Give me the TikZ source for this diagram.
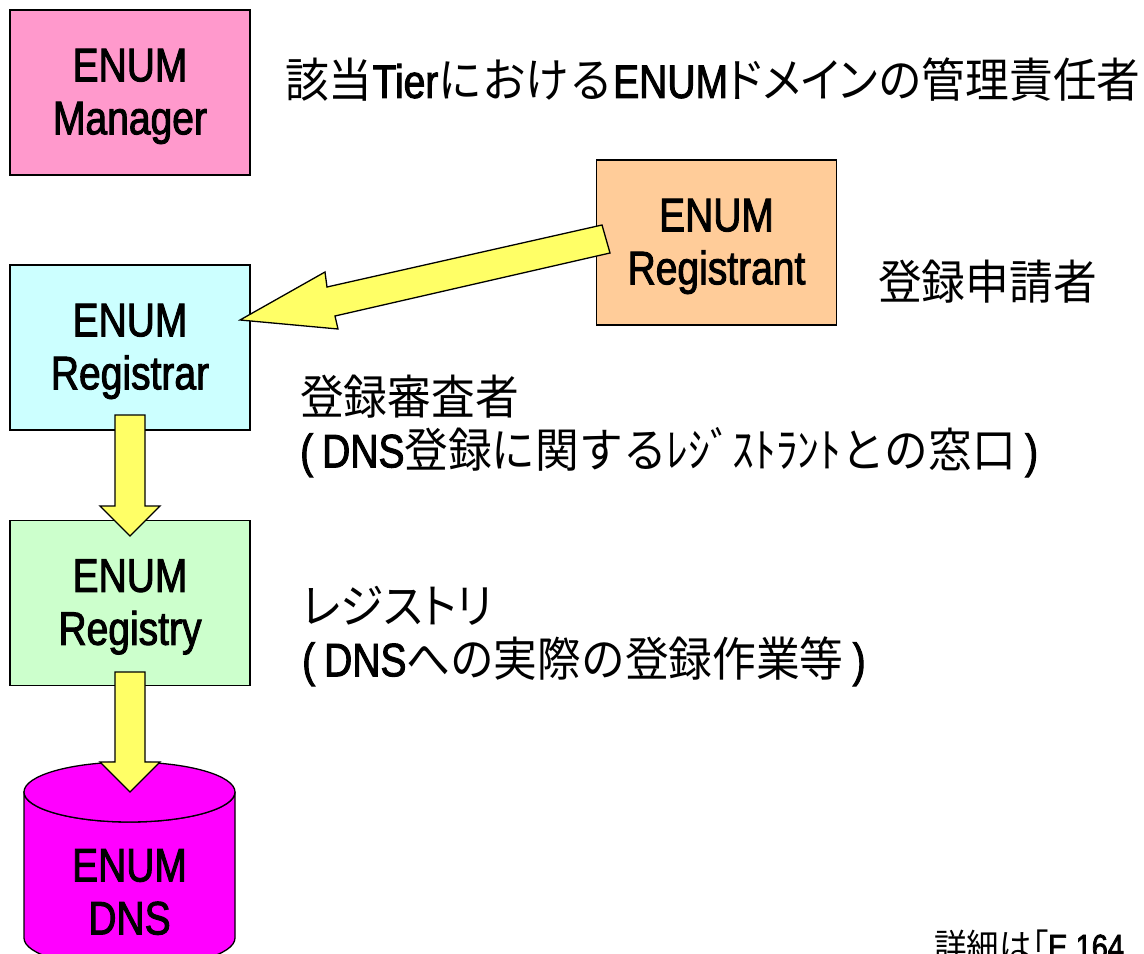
\documentclass[tikz,border=0pt]{standalone}
\usepackage{fontspec}
\setmainfont{Liberation Sans}[FakeStretch=0.83, FakeBold=2]
\newfontfamily\jp{Noto Sans CJK JP}[FakeStretch=0.93]
\newfontfamily\jpp{Noto Sans CJK JP}[FakeStretch=0.93, RawFeature=+palt]
\newcommand\J[1]{{\jp #1}}
\newcommand\JP[1]{{\jpp #1}}
\definecolor{mgrpink}{HTML}{FF99CC}
\definecolor{regorange}{HTML}{FFCC99}
\definecolor{rarcyan}{HTML}{CCFFFF}
\definecolor{rygreen}{HTML}{CCFFCC}
\definecolor{dnsmag}{HTML}{FF00FF}
\definecolor{arrowyellow}{HTML}{FFFF66}
\begin{document}
\begin{tikzpicture}[x=1bp,y=-1bp,
  box/.style={draw=black, line width=1.3bp, minimum width=240bp, minimum height=165bp, inner sep=0pt},
  boxtext/.style={inner sep=0pt, align=center, yshift=-4bp, font=\fontsize{47bp}{53bp}\selectfont},
  blockarrow/.style={draw=black, line width=1.3bp, fill=arrowyellow, line join=miter},
  lbl/.style={anchor=west, inner sep=0pt, align=left, font=\fontsize{47bp}{53bp}\selectfont}]
\useasboundingbox[fill=white] (0,0) rectangle (1144,954);
% boxes
\node[box, fill=mgrpink] (mgr) at (130,92.5) {};
\node[boxtext] (mgrtext) at (mgr.center) {ENUM\\Manager};
\node[box, fill=regorange] (registrant) at (716.5,242.5) {};
\node[boxtext] (registranttext) at (registrant.center) {ENUM\\Registrant};
\node[box, fill=rarcyan] (registrar) at (130,347.5) {};
\node[boxtext] (registrartext) at (registrar.center) {ENUM\\Registrar};
\node[box, fill=rygreen] (registry) at (130,603) {};
\node[boxtext] (registrytext) at (registry.center) {ENUM\\Registry};
% cylinder
\draw[line width=1.3bp, fill=dnsmag] (24,792) -- (24,938) arc[start angle=180,end angle=0,x radius=105.5,y radius=30] -- (235,792) arc[start angle=0,end angle=180,x radius=105.5,y radius=30] -- cycle;
\draw[line width=1.3bp, fill=dnsmag] (129.5,792) ellipse[x radius=105.5, y radius=30];
\node[boxtext] (dns) at (129.5,888) {ENUM\\DNS};
% block arrows
\draw[blockarrow] (602,225) -- (610,253) -- (335,316) -- (338,329) -- (240,320) -- (325,272) -- (327,287) -- cycle;
\draw[blockarrow] (115,415) -- (145,415) -- (145,506) -- (160,506) -- (130,536) -- (100,506) -- (115,506) -- cycle;
\draw[blockarrow] (115,672) -- (145,672) -- (145,762) -- (160,762) -- (130,792) -- (100,762) -- (115,762) -- cycle;
% labels
\node[lbl] (tmgr) at (285,80) {\J{該当}Tier\J{における}ENUM\JP{ドメイン}\J{の管理責任者}};
\node[lbl] (tregistrant) at (878,282) {\J{登録申請者}};
\node[lbl] (tregistrar) at (300,426) {\J{登録審査者}\\(\hspace{9bp}DNS\J{登録に関するﾚｼﾞｽﾄﾗﾝﾄとの窓口}\hspace{9bp})};
\node[lbl] (tregistry) at (302,636) {\JP{レジストリ}\\(\hspace{9bp}DNS\J{への実際の登録作業等}\hspace{9bp})};
\node[anchor=base west, inner sep=0pt, font=\fontsize{35bp}{38bp}\selectfont] (note) at (934,959) {\J{詳細は}\JP{「}E.164};
\end{tikzpicture}
\end{document}
